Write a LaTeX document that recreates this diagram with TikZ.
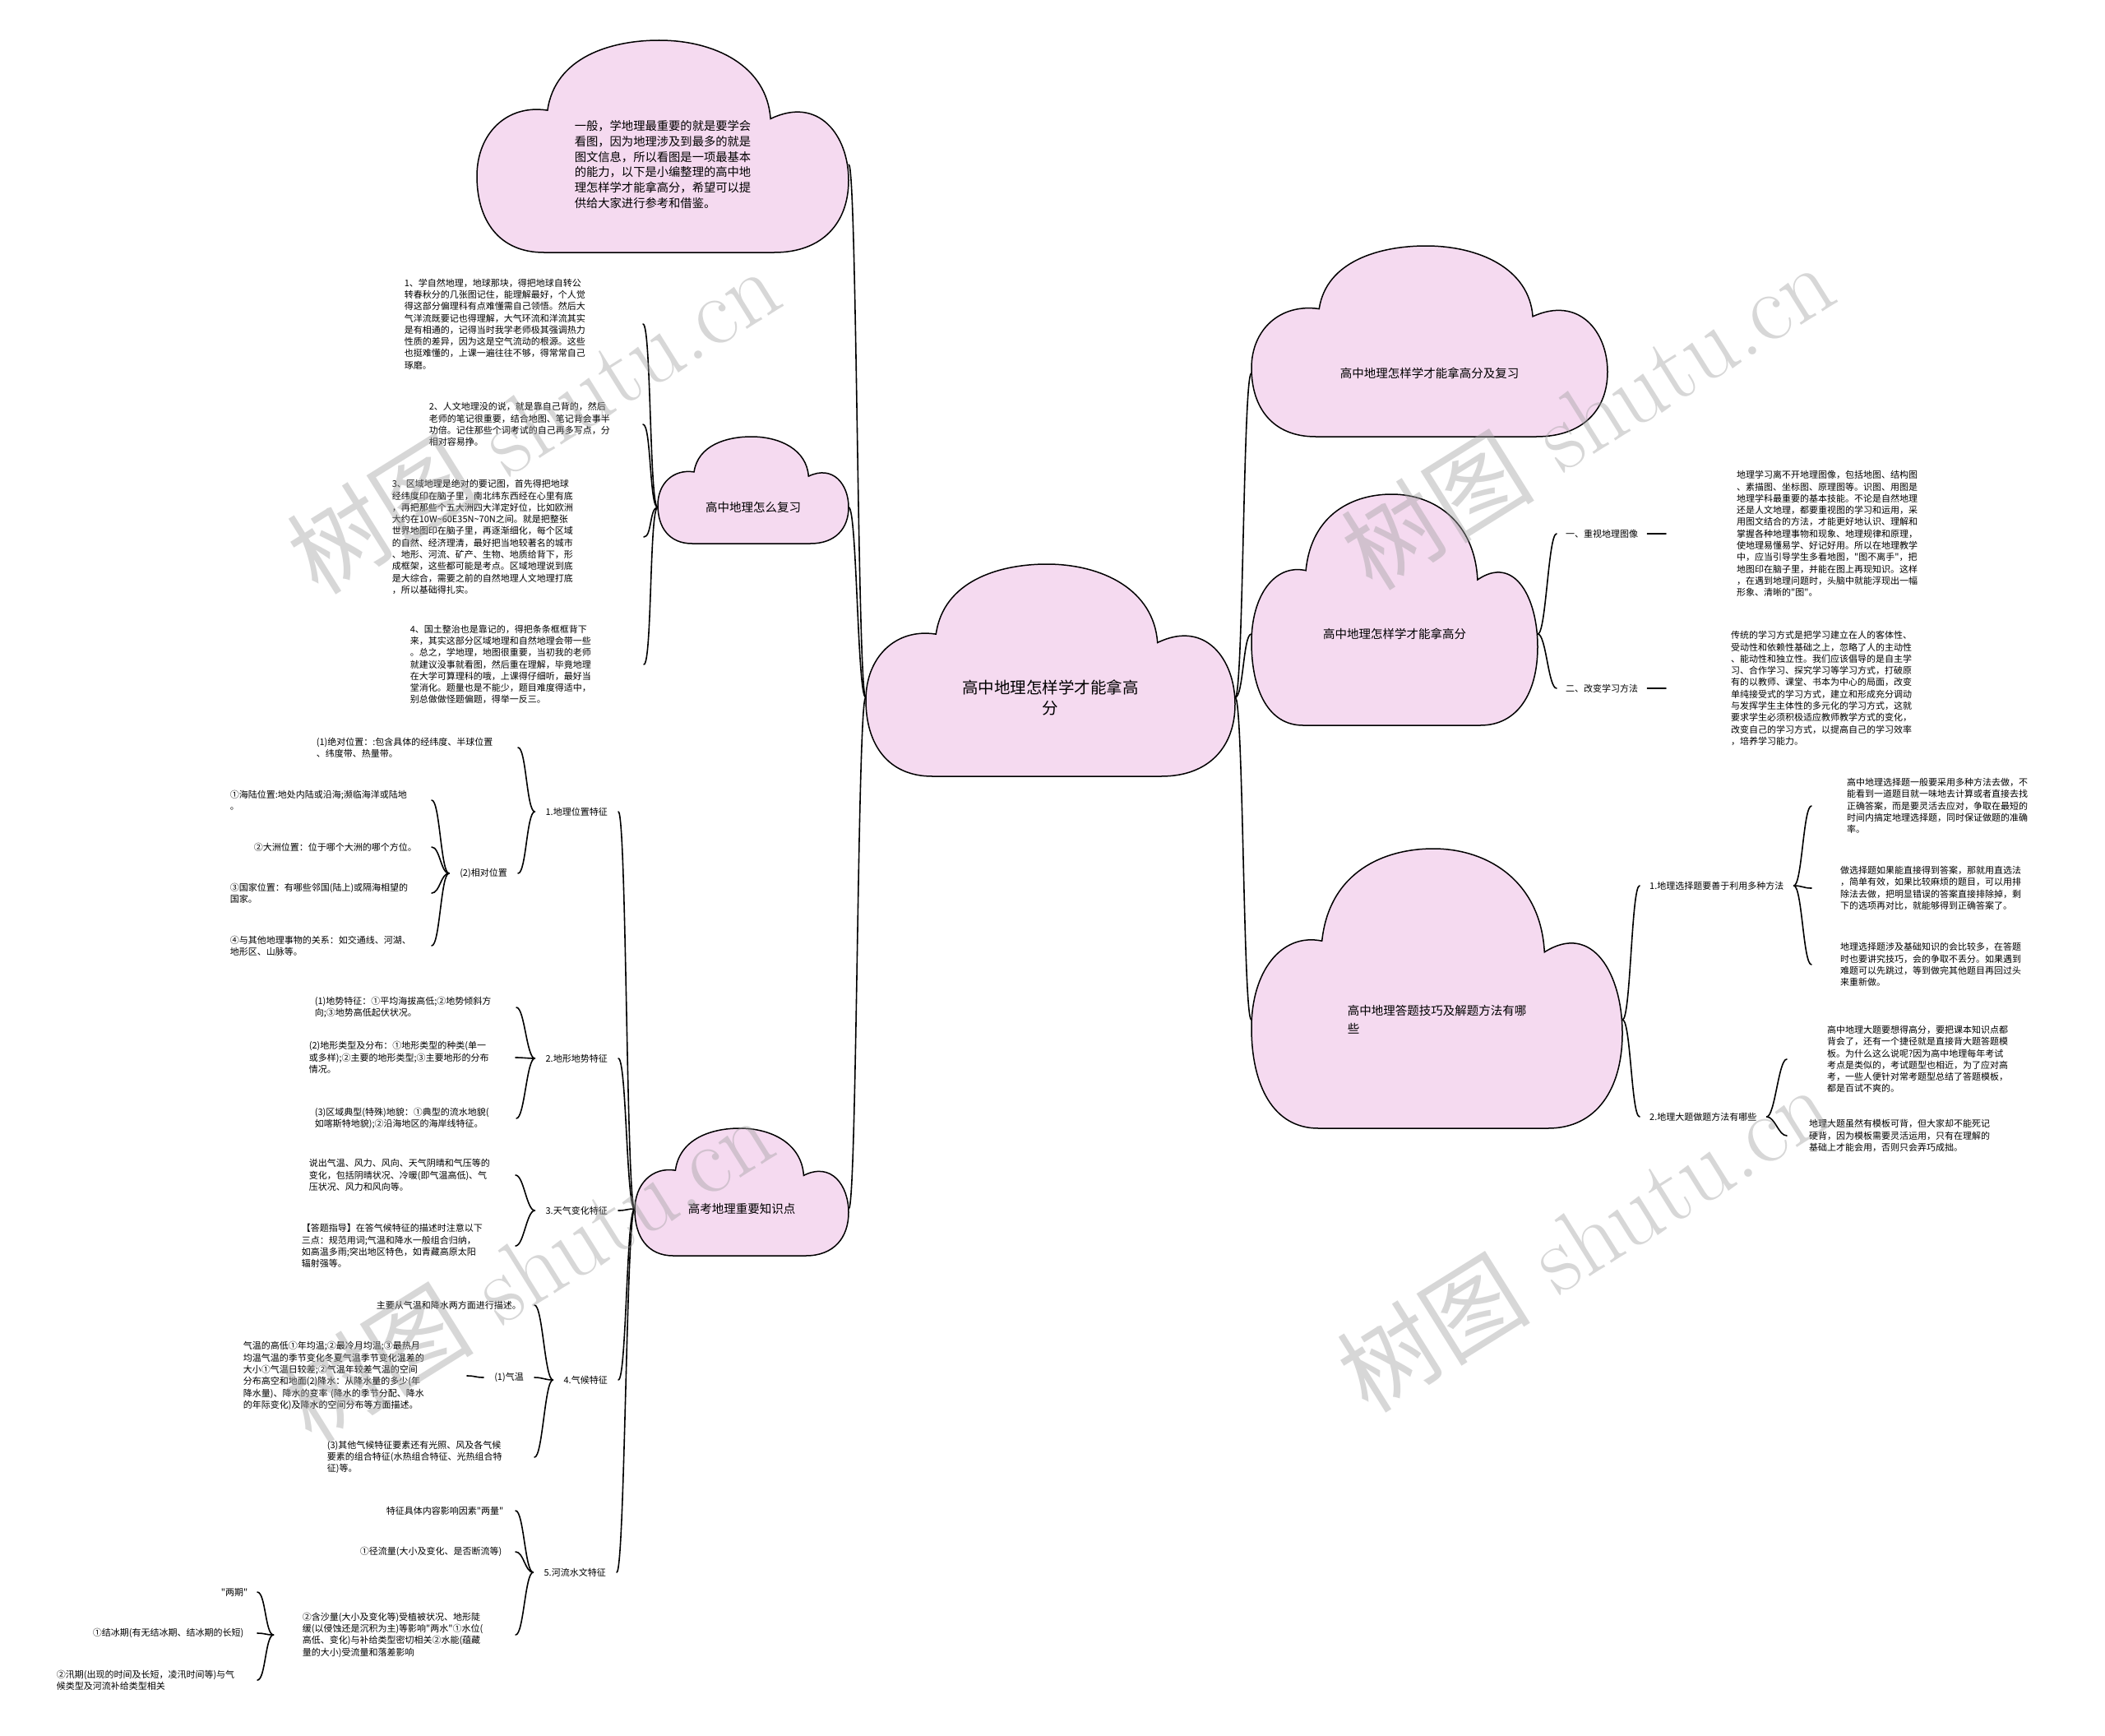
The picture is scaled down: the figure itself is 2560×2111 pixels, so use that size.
\documentclass[tikz,border=0pt]{standalone}
\usepackage{fontspec}
\usepackage{tikz}
\newfontfamily\cjk{Noto Sans CJK SC}
\definecolor{cloudpink}{RGB}{245,218,240}
\definecolor{markgray}{RGB}{160,160,160}
\tikzset{
  link/.style={line width=1.6pt,line cap=round},
  note/.style={font=\cjk\fontsize{11}{14.3}\selectfont,align=left,inner sep=0pt,anchor=east},
  rnote/.style={font=\cjk\fontsize{11}{14.3}\selectfont,align=left,inner ysep=0pt,anchor=west},
  stem/.style={font=\cjk\fontsize{11}{14.3}\selectfont,inner xsep=13pt,inner ysep=0pt},
  cloudtext/.style={font=\cjk\fontsize{14.5}{22}\selectfont,inner sep=0pt},
  cloudline/.style={line width=1.5pt,fill=cloudpink},
  wmark/.style={rotate=32,text=markgray,opacity=0.42,font=\fontsize{118}{118}\selectfont,inner sep=0pt}
}
% cloud: name, node options, left, top, width, height, text y, text
\newcommand{\cloudnode}[8]{%
  \begin{scope}[shift={(#3,#4)},x=#5pt,y=-#6pt]
    \draw[cloudline] (0.19,0.33) .. controls (0.21,0.08) and (0.36,0) .. (0.49,0)
      .. controls (0.64,0) and (0.78,0.12) .. (0.79,0.37)
      .. controls (0.92,0.26) and (1,0.45) .. (1,0.66)
      .. controls (1,0.86) and (0.93,1) .. (0.8,1)
      -- (0.18,1) .. controls (0.06,1) and (0,0.85) .. (0,0.64)
      .. controls (0,0.44) and (0.08,0.3) .. (0.19,0.33) -- cycle;
  \end{scope}
  \node[cloudtext,minimum width=#5pt,#2] (#1) at ({#3+#5/2},#7) {#8};
}
\newcommand{\linkleft}[2]{\draw[link] (#1) .. controls +(-10,0) and +(10,0) .. (#2);}
\newcommand{\linkright}[2]{\draw[link] (#1) .. controls +(10,0) and +(-10,0) .. (#2);}

\begin{document}
\begin{tikzpicture}[x=1pt,y=-1pt]
  \fill[white] (0,0) rectangle (2560,2111);
  \useasboundingbox (0,0) rectangle (2560,2111);

  % clouds
  \cloudnode{root}{align=center,font=\cjk\fontsize{19.5}{25}\selectfont}{1053}{686}{449}{258}{848}{高中地理怎样学才能拿高\\分}
  \cloudnode{intro}{align=left,font=\cjk\fontsize{14.3}{18.9}\selectfont}{580}{49}{452}{258}{200}{一般，学地理最重要的就是要学会\\看图，因为地理涉及到最多的就是\\图文信息，所以看图是一项最基本\\的能力，以下是小编整理的高中地\\理怎样学才能拿高分，希望可以提\\供给大家进行参考和借鉴。}
  \cloudnode{review}{}{800}{531}{232}{130}{617}{高中地理怎么复习}
  \cloudnode{exam}{}{772}{1372}{260}{155}{1470}{高考地理重要知识点}
  \cloudnode{reviewplus}{}{1522}{299}{433}{232}{454}{高中地理怎样学才能拿高分及复习}
  \cloudnode{howto}{}{1522}{601}{348}{281}{771}{高中地理怎样学才能拿高分}
  \cloudnode{skill}{align=left}{1522}{1032}{451}{340}{1240}{高中地理答题技巧及解题方法有哪\\些}

  % how to review
  \node[note,text width=290pt] (recall1) at (782,394) {1、学自然地理，地球那块，得把地球自转公\\转春秋分的几张图记住，能理解最好，个人觉\\得这部分偏理科有点难懂需自己领悟。然后大\\气洋流既要记也得理解，大气环流和洋流其实\\是有相通的，记得当时我学老师极其强调热力\\性质的差异，因为这是空气流动的根源。这些\\也挺难懂的，上课一遍往往不够，得常常自己\\琢磨。};
  \node[note,text width=260pt] (recall2) at (782,516) {2、人文地理没的说，就是靠自己背的，然后\\老师的笔记很重要，结合地图、笔记背会事半\\功倍。记住那些个词考试的自己再多写点，分\\相对容易挣。};
  \node[note,text width=306pt] (recall3) at (783,653) {3、区域地理是绝对的要记图，首先得把地球\\经纬度印在脑子里，南北纬东西经在心里有底\\，再把那些个五大洲四大洋定好位，比如欧洲\\大约在10W\textasciitilde 60E35N\textasciitilde 70N之间。就是把整张\\世界地图印在脑子里，再逐渐细化，每个区域\\的自然、经济理清，最好把当地较著名的城市\\、地形、河流、矿产、生物、地质给背下，形\\成框架，这些都可能是考点。区域地理说到底\\是大综合，需要之前的自然地理人文地理打底\\，所以基础得扎实。};
  \node[note,text width=284pt] (recall4) at (783,808) {4、国土整治也是靠记的，得把条条框框背下\\来，其实这部分区域地理和自然地理会带一些\\。总之，学地理，地图很重要，当初我的老师\\就建议没事就看图，然后重在理解，毕竟地理\\在大学可算理科的哦，上课得仔细听，最好当\\堂消化。题量也是不能少，题目难度得适中，\\别总做做怪题偏题，得举一反三。};

  % key points
  \node[stem,anchor=east] (geoloc) at (752,987) {1.地理位置特征};
  \node[stem,anchor=east] (terrain) at (752,1287) {2.地形地势特征};
  \node[stem,anchor=east] (weather) at (752,1472) {3.天气变化特征};
  \node[stem,anchor=east] (climate) at (752,1678) {4.气候特征};
  \node[stem,anchor=east] (river) at (750,1912) {5.河流水文特征};

  \node[note,text width=245pt] (absloc) at (630,909) {(1)绝对位置：:包含具体的经纬度、半球位置\\、纬度带、热量带。};
  \node[stem,anchor=east] (relloc) at (630,1062) {(2)相对位置};
  \node[note,text width=245pt] (sealand) at (525,973) {①海陆位置:地处内陆或沿海;濒临海洋或陆地\\。};
  \node[note,text width=216pt] (continent) at (525,1030) {②大洲位置：位于哪个大洲的哪个方位。};
  \node[note,text width=245pt] (country) at (525,1086) {③国家位置：有哪些邻国(陆上)或隔海相望的\\国家。};
  \node[note,text width=245pt] (relation) at (525,1150) {④与其他地理事物的关系：如交通线、河湖、\\地形区、山脉等。};

  \node[note,text width=245pt] (relief) at (628,1225) {(1)地势特征：①平均海拔高低;②地势倾斜方\\向;③地势高低起伏状况。};
  \node[note,text width=251pt] (landform) at (627,1286) {(2)地形类型及分布：①地形类型的种类(单一\\或多样);②主要的地形类型;③主要地形的分布\\情况。};
  \node[note,text width=245pt] (special) at (628,1360) {(3)区域典型(特殊)地貌：①典型的流水地貌(\\如喀斯特地貌);②沿海地区的海岸线特征。};

  \node[note,text width=251pt] (wdesc) at (627,1429) {说出气温、风力、风向、天气阴晴和气压等的\\变化，包括阴晴状况、冷暖(即气温高低)、气\\压状况、风力和风向等。};
  \node[note,text width=260pt] (wguide) at (627,1515) {【答题指导】在答气候特征的描述时注意以下\\三点：规范用词;气温和降水一般组合归纳，\\如高温多雨;突出地区特色，如青藏高原太阳\\辐射强等。};

  \node[note,text width=192pt] (cmain) at (650,1587) {主要从气温和降水两方面进行描述。};
  \node[stem,anchor=east] (ctemp) at (650,1675) {(1)气温};
  \node[note,text width=272pt] (cdetail) at (568,1673) {气温的高低①年均温;②最冷月均温;③最热月\\均温气温的季节变化冬夏气温季节变化温差的\\大小①气温日较差;②气温年较差气温的空间\\分布高空和地面(2)降水：从降水量的多少(年\\降水量)、降水的变率 (降水的季节分配、降水\\的年际变化)及降水的空间分布等方面描述。};
  \node[note,text width=252pt] (cother) at (650,1772) {(3)其他气候特征要素还有光照、风及各气候\\要素的组合特征(水热组合特征、光热组合特\\征)等。};

  \node[note,text width=157pt] (rflow) at (627,1837) {特征具体内容影响因素"两量"};
  \node[note,text width=189pt] (runoff) at (627,1887) {①径流量(大小及变化、是否断流等)};
  \node[note,inner xsep=35pt,text width=224pt] (sediment) at (627,1988) {②含沙量(大小及变化等)受植被状况、地形陡\\缓(以侵蚀还是沉积为主)等影响"两水"①水位(\\高低、变化)与补给类型密切相关②水能(蕴藏\\量的大小)受流量和落差影响};
  \node[note,text width=44pt] (periods) at (313,1936) {"两期"};
  \node[note,text width=200pt] (icing) at (313,1986) {①结冰期(有无结冰期、结冰期的长短)};
  \node[note,text width=244pt] (flood) at (313,2043) {②汛期(出现的时间及长短，凌汛时间等)与气\\候类型及河流补给类型相关};

  % right side
  \node[stem,anchor=west,inner xsep=11pt] (maps) at (1893,649) {一、重视地理图像};
  \node[stem,anchor=west,inner xsep=11pt] (method) at (1893,837) {二、改变学习方法};
  \node[rnote,inner xsep=86pt,text width=228pt] (mapstext) at (2026,649) {地理学习离不开地理图像，包括地图、结构图\\、素描图、坐标图、原理图等。识图、用图是\\地理学科最重要的基本技能。不论是自然地理\\还是人文地理，都要重视图的学习和运用，采\\用图文结合的方法，才能更好地认识、理解和\\掌握各种地理事物和现象、地理规律和原理，\\使地理易懂易学、好记好用。所以在地理教学\\中，应当引导学生多看地图，"图不离手"，把\\地图印在脑子里，并能在图上再现知识。这样\\，在遇到地理问题时，头脑中就能浮现出一幅\\形象、清晰的"图"。};
  \node[rnote,inner xsep=79pt,text width=228pt] (methodtext) at (2026,837) {传统的学习方式是把学习建立在人的客体性、\\受动性和依赖性基础之上，忽略了人的主动性\\、能动性和独立性。我们应该倡导的是自主学\\习、合作学习、探究学习等学习方式，打破原\\有的以教师、课堂、书本为中心的局面，改变\\单纯接受式的学习方式，建立和形成充分调动\\与发挥学生主体性的多元化的学习方式，这就\\要求学生必须积极适应教师教学方式的变化，\\改变自己的学习方式，以提高自己的学习效率\\，培养学习能力。};

  \node[stem,anchor=west,inner xsep=12pt] (choice) at (1994,1077) {1.地理选择题要善于利用多种方法};
  \node[stem,anchor=west,inner xsep=12pt] (essay) at (1994,1358) {2.地理大题做题方法有哪些};
  \node[rnote,inner xsep=43pt,text width=228pt] (choiceA) at (2203,980) {高中地理选择题一般要采用多种方法去做，不\\能看到一道题目就一味地去计算或者直接去找\\正确答案，而是要灵活去应对，争取在最短的\\时间内搞定地理选择题，同时保证做题的准确\\率。};
  \node[rnote,inner xsep=35pt,text width=228pt] (choiceB) at (2203,1080) {做选择题如果能直接得到答案，那就用直选法\\，简单有效，如果比较麻烦的题目，可以用排\\除法去做，把明显错误的答案直接排除掉，剩\\下的选项再对比，就能够得到正确答案了。};
  \node[rnote,inner xsep=35pt,text width=228pt] (choiceC) at (2203,1173) {地理选择题涉及基础知识的会比较多，在答题\\时也要讲究技巧，会的争取不丢分。如果遇到\\难题可以先跳过，等到做完其他题目再回过头\\来重新做。};
  \node[rnote,inner xsep=49pt,text width=228pt] (essayA) at (2173,1288) {高中地理大题要想得高分，要把课本知识点都\\背会了，还有一个捷径就是直接背大题答题模\\板。为什么这么说呢?因为高中地理每年考试\\考点是类似的，考试题型也相近，为了应对高\\考，一些人便针对常考题型总结了答题模板，\\都是百试不爽的。};
  \node[rnote,inner xsep=27pt,text width=228pt] (essayB) at (2173,1381) {地理大题虽然有模板可背，但大家却不能死记\\硬背，因为模板需要灵活运用，只有在理解的\\基础上才能会用，否则只会弄巧成拙。};

  % connectors
  \foreach \n in {intro,review,exam} {\linkleft{root.west}{\n.east}}
  \foreach \n in {reviewplus,howto,skill} {\linkright{root.east}{\n.west}}
  \foreach \n in {recall1,recall2,recall3,recall4} {\linkleft{review.west}{\n.east}}
  \foreach \n in {geoloc,terrain,weather,climate,river} {\linkleft{exam.west}{\n.east}}
  \foreach \n in {absloc,relloc} {\linkleft{geoloc.west}{\n.east}}
  \foreach \n in {sealand,continent,country,relation} {\linkleft{relloc.west}{\n.east}}
  \foreach \n in {relief,landform,special} {\linkleft{terrain.west}{\n.east}}
  \foreach \n in {wdesc,wguide} {\linkleft{weather.west}{\n.east}}
  \foreach \n in {cmain,ctemp,cother} {\linkleft{climate.west}{\n.east}}
  \linkleft{ctemp.west}{cdetail.east}
  \foreach \n in {rflow,runoff,sediment} {\linkleft{river.west}{\n.east}}
  \foreach \n in {periods,icing,flood} {\linkleft{sediment.west}{\n.east}}
  \foreach \n in {maps,method} {\linkright{howto.east}{\n.west}}
  \linkright{maps.east}{mapstext.west}
  \linkright{method.east}{methodtext.west}
  \foreach \n in {choice,essay} {\linkright{skill.east}{\n.west}}
  \foreach \n in {choiceA,choiceB,choiceC} {\linkright{choice.east}{\n.west}}
  \foreach \n in {essayA,essayB} {\linkright{essay.east}{\n.west}}

  % watermarks
  \foreach \wx/\wy in {648/510,1930/505,640/1542,1925/1505}
    \node[wmark] at (\wx,\wy) {{\cjk 树图} shutu.cn};
\end{tikzpicture}
\end{document}
